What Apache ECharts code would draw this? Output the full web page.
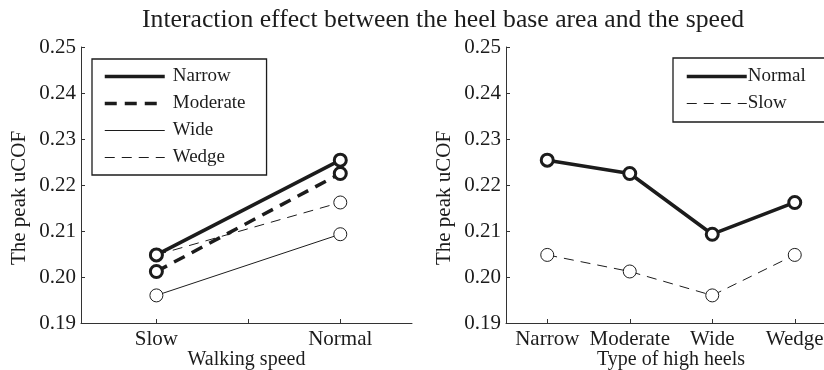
<!DOCTYPE html>
<html>
<head>
<meta charset="utf-8">
<script src="https://cdn.jsdelivr.net/npm/echarts@6/dist/echarts.min.js"></script>
<style>
html,body{margin:0;padding:0;background:#fff;}
#chart{width:824px;height:370px;}
</style>
</head>
<body>
<div id="chart"></div>
<script>
// ---- data ----
var speedCategories = ['Slow', 'Normal'];
var heelCategories = ['Narrow', 'Moderate', 'Wide', 'Wedge'];
// peak uCOF by heel type (values at Slow, Normal)
var narrowVals = [0.2048, 0.2254];
var moderateVals = [0.2012, 0.2225];
var wideVals = [0.1960, 0.2093];
var wedgeVals = [0.2048, 0.2162];
// peak uCOF by speed (values at Narrow, Moderate, Wide, Wedge)
var normalVals = [0.2254, 0.2225, 0.2093, 0.2162];
var slowVals = [0.2048, 0.2012, 0.1960, 0.2048];
var yTicks = [0.19, 0.20, 0.21, 0.22, 0.23, 0.24, 0.25];

var FONT = 'Liberation Serif';
var INK = '#1c1c1c';
var AX = '#333';

function pairs(vals) {
  return vals.map(function (v, i) { return [i + 1, v]; });
}

var yAxisCommon = {
  type: 'value',
  min: yTicks[0],
  max: yTicks[yTicks.length - 1],
  interval: 0.01,
  name: 'The peak uCOF',
  nameLocation: 'middle',
  nameGap: 51,
  nameTextStyle: {fontFamily: FONT, fontSize: 21, color: INK, padding: [0, 26, 0, 0]},
  axisLine: {show: true, lineStyle: {color: AX, width: 1}},
  axisTick: {show: true, inside: true, length: 4, lineStyle: {color: AX}},
  axisLabel: {fontFamily: FONT, fontSize: 21, color: INK, margin: 5,
    formatter: function (v) { return v.toFixed(2); }},
  splitLine: {show: false}
};

function thick(name, vals, dashed, xi, yi) {
  return {
    name: name, type: 'line', xAxisIndex: xi, yAxisIndex: yi,
    data: pairs(vals), symbol: 'circle', symbolSize: 12,
    lineStyle: {color: INK, width: 3.5, type: dashed ? [12, 8] : 'solid'},
    itemStyle: {color: '#fff', borderColor: INK, borderWidth: 3},
    emphasis: {disabled: true}, animation: false, z: 3
  };
}
function thin(name, vals, dashed, xi, yi) {
  return {
    name: name, type: 'line', xAxisIndex: xi, yAxisIndex: yi,
    data: pairs(vals), symbol: 'circle', symbolSize: 13,
    lineStyle: {color: INK, width: 1, type: dashed ? [10, 7] : 'solid'},
    itemStyle: {color: '#fff', borderColor: INK, borderWidth: 1},
    emphasis: {disabled: true}, animation: false, z: 2
  };
}

var legendCommon = {
  orient: 'vertical',
  borderColor: INK,
  borderWidth: 1.3,
  backgroundColor: '#fff',
  itemWidth: 60,
  itemHeight: 14,
  itemGap: 8,
  textStyle: {fontFamily: FONT, fontSize: 19, color: INK, padding: [0, 0, 0, 3]},
  itemStyle: {opacity: 0},
  selectedMode: false
};

function legendItem(name, w) {
  return {name: name, lineStyle: {width: w}};
}

var option = {
  animation: false,
  title: {
    text: 'Interaction effect between the heel base area and the speed',
    left: 137, top: 2,
    textStyle: {fontFamily: FONT, fontSize: 25.7, fontWeight: 'normal', color: INK}
  },
  grid: [
    {left: 81, top: 47, width: 331, height: 276, outerBoundsMode: 'none', containLabel: false},
    {left: 506, top: 47, width: 330, height: 276, outerBoundsMode: 'none', containLabel: false}
  ],
  xAxis: [
    {
      type: 'value', gridIndex: 0, min: 0.59, max: 2.39,
      name: 'Walking speed', nameLocation: 'middle', nameGap: 27, nameMoveOverlap: false,
      nameTextStyle: {fontFamily: FONT, fontSize: 20, color: INK},
      axisLine: {show: true, lineStyle: {color: AX}},
      axisTick: {show: true, inside: true, length: 4, customValues: [1, 1.5, 2], lineStyle: {color: AX}},
      axisLabel: {fontFamily: FONT, fontSize: 21, color: INK, margin: 6, customValues: [1, 2],
        formatter: function (v) { return speedCategories[Math.round(v) - 1]; }},
      splitLine: {show: false}
    },
    {
      type: 'value', gridIndex: 1, min: 0.5, max: 4.5,
      name: 'Type of high heels', nameLocation: 'middle', nameGap: 27, nameMoveOverlap: false,
      nameTextStyle: {fontFamily: FONT, fontSize: 20, color: INK},
      axisLine: {show: true, lineStyle: {color: AX}},
      axisTick: {show: true, inside: true, length: 4, customValues: [1, 2, 3, 4], lineStyle: {color: AX}},
      axisLabel: {fontFamily: FONT, fontSize: 21, color: INK, margin: 6, customValues: [1, 2, 3, 4],
        formatter: function (v) { return heelCategories[Math.round(v) - 1]; }},
      splitLine: {show: false}
    }
  ],
  yAxis: [
    Object.assign({gridIndex: 0}, yAxisCommon),
    Object.assign({gridIndex: 1}, yAxisCommon)
  ],
  legend: [
    Object.assign({}, legendCommon, {left: 92, top: 59, padding: [8, 21, 8, 11],
      data: [legendItem('Narrow', 3.5), legendItem('Moderate', 3.5), legendItem('Wide', 1), legendItem('Wedge', 1)]}),
    Object.assign({}, legendCommon, {left: 673, top: 58, padding: [9, 40, 9, 12],
      textStyle: {fontFamily: FONT, fontSize: 19, color: INK, padding: [0, 0, 0, -4]},
      data: [legendItem('Normal', 3.5), legendItem('Slow', 1)]})
  ],
  series: [
    thin('Wedge', wedgeVals, true, 0, 0),
    thin('Wide', wideVals, false, 0, 0),
    thick('Moderate', moderateVals, true, 0, 0),
    thick('Narrow', narrowVals, false, 0, 0),
    thin('Slow', slowVals, true, 1, 1),
    thick('Normal', normalVals, false, 1, 1)
  ]
};

var chart = echarts.init(document.getElementById('chart'), null, {renderer: 'canvas'});
chart.setOption(option);
</script>
</body>
</html>
